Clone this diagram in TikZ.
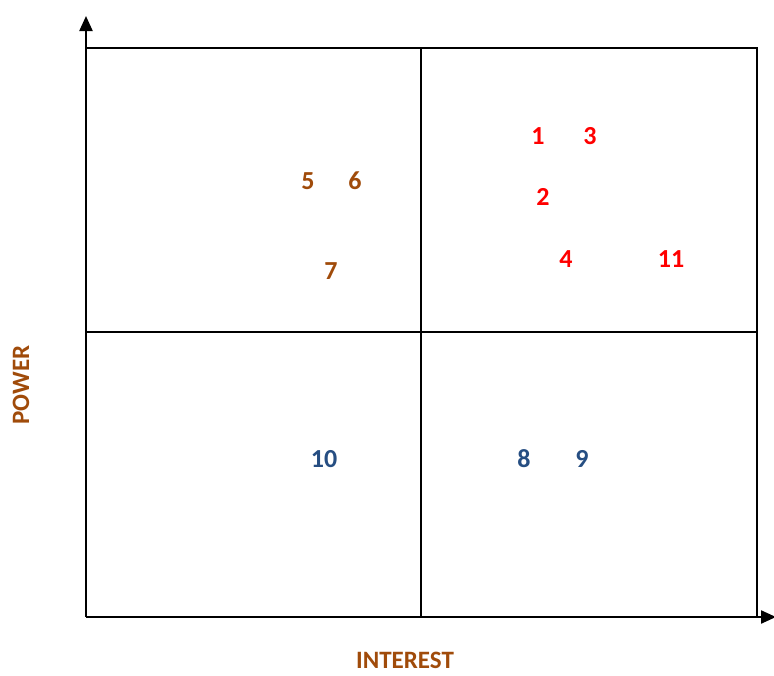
\documentclass[tikz,border=0pt]{standalone}
\usepackage{fontspec}
\setmainfont{Carlito}
\usetikzlibrary{arrows.meta}
\definecolor{brownc}{RGB}{160,75,10}
\definecolor{redc}{RGB}{255,0,0}
\definecolor{bluec}{RGB}{38,78,130}
\tikzset{
  px/.style={x=1pt,y=-1pt},
  grid line/.style={draw=black,line width=1.1pt},
  axis/.style={draw=black,line width=2.2pt,-{Triangle[length=15pt,width=13pt]}},
  num/.style={font=\bfseries\fontsize{26}{30}\selectfont,inner sep=0pt},
  axlabel/.style={font=\bfseries\fontsize{25}{30}\selectfont,text=brownc,inner sep=0pt},
}
\begin{document}
\begin{tikzpicture}[px]
\useasboundingbox (0,0) rectangle (774,675);
\coordinate (o) at (86,617);
\coordinate (ytip) at (86,16);
\coordinate (xtip) at (776,617);
\coordinate (tl) at (86,48);
\coordinate (tr) at (757,48);
\coordinate (br) at (757,617);
\coordinate (mt) at (421,48);
\coordinate (mb) at (421,617);
\coordinate (ml) at (86,332);
\coordinate (mr) at (757,332);
\draw[grid line] (tl) -- (tr) -- (br);
\draw[grid line] (mt) -- (mb);
\draw[grid line] (ml) -- (mr);
\draw[axis] (o) -- (ytip);
\draw[axis] (o) -- (xtip);
\node[axlabel,rotate=90] (power) at (21,385) {POWER};
\node[axlabel] (interest) at (405,660) {INTEREST};
\node[num,text=redc] (n1) at (538,136) {1};
\node[num,text=redc] (n3) at (590,136) {3};
\node[num,text=redc] (n2) at (543,197) {2};
\node[num,text=redc] (n4) at (566,259) {4};
\node[num,text=redc] (n11) at (671,259) {11};
\node[num,text=brownc] (n5) at (308,181) {5};
\node[num,text=brownc] (n6) at (355,181) {6};
\node[num,text=brownc] (n7) at (331,271) {7};
\node[num,text=bluec] (n10) at (324,459) {10};
\node[num,text=bluec] (n8) at (524,459) {8};
\node[num,text=bluec] (n9) at (582,459) {9};
\end{tikzpicture}
\end{document}
